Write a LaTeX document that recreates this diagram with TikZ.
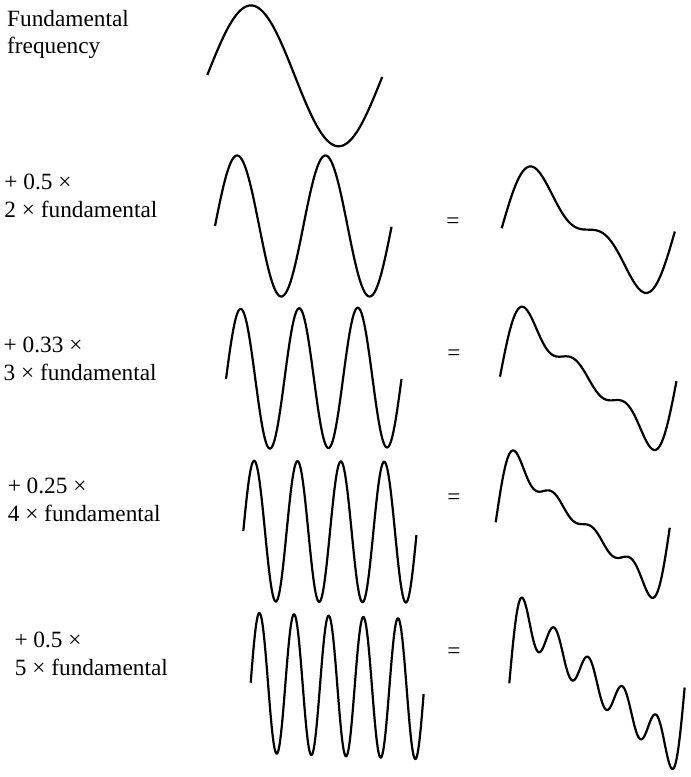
\documentclass[tikz,border=0pt]{standalone}
\usepackage{fontspec}
\setmainfont{Liberation Serif}
\begin{document}
\begin{tikzpicture}[x=1pt,y=-1pt,
  wave/.style={line width=2.2pt, line join=round},
  lbl/.style={anchor=base west, inner sep=0pt, font=\fontsize{23.3}{28}\selectfont},
  eqsign/.style={anchor=base, inner sep=0pt, font=\fontsize{23.3}{28}\selectfont}]
\useasboundingbox (0,0) rectangle (691,777);

% labels
\node[lbl] (l1a) at (7,26) {Fundamental};
\node[lbl] (l1b) at (7,53.5) {frequency};
\node[lbl] (l2a) at (4.3,189.3) {+ 0.5 ×};
\node[lbl] (l2b) at (4.3,217.3) {2 × fundamental};
\node[lbl] (l3a) at (3.5,352.3) {+ 0.33 ×};
\node[lbl] (l3b) at (3.5,380) {3 × fundamental};
\node[lbl] (l4a) at (7.6,493.3) {+ 0.25 ×};
\node[lbl] (l4b) at (7.6,521) {4 × fundamental};
\node[lbl] (l5a) at (14.3,647.7) {+ 0.5 ×};
\node[lbl] (l5b) at (14.8,675) {5 × fundamental};

% equals signs
\node[eqsign] (e2) at (453,228.5) {=};
\node[eqsign] (e3) at (454,360) {=};
\node[eqsign] (e4) at (454,504.8) {=};
\node[eqsign] (e5) at (454,658.2) {=};

% component waves
\draw[wave] plot[domain=0:1, samples=250, variable=\t]
  ({207.3+175*\t}, {75+1.7*\t-70*sin(360*\t)});
\draw[wave] plot[domain=0:1, samples=300, variable=\t]
  ({215+176.7*\t}, {226-70.5*sin(720*\t)});
\draw[wave] plot[domain=0:1, samples=350, variable=\t]
  ({226+175.7*\t}, {379-1.7*\t-70*sin(1080*\t)});
\draw[wave] plot[domain=0:1, samples=400, variable=\t]
  ({243.3+173.4*\t}, {531+1.3*\t-70.3*sin(1440*\t)});
\draw[wave] plot[domain=0:1, samples=450, variable=\t]
  ({250.7+173.3*\t}, {682.7+6.6*\t-70*sin(1800*\t)});

% sums
\draw[wave] plot[domain=0:1, samples=300, variable=\t]
  ({501.7+173.3*\t}, {228.3+2.7*\t-48*(sin(360*\t)+sin(720*\t)/2)});
\draw[wave] plot[domain=0:1, samples=350, variable=\t]
  ({500+176.7*\t}, {376.7+3.3*\t-48.8*(sin(360*\t)+sin(720*\t)/2+sin(1080*\t)/3)});
\draw[wave] plot[domain=0:1, samples=400, variable=\t]
  ({495.7+174.3*\t}, {522.3+3.7*\t-47.3*(sin(360*\t)+sin(720*\t)/2+sin(1080*\t)/3+sin(1440*\t)/4)});
\draw[wave] plot[domain=0:1, samples=450, variable=\t]
  ({509.3+175.7*\t}, {683.3-48*(sin(360*\t)+sin(720*\t)/2+sin(1080*\t)/3+sin(1440*\t)/4+sin(1800*\t)/2)});
\end{tikzpicture}
\end{document}
